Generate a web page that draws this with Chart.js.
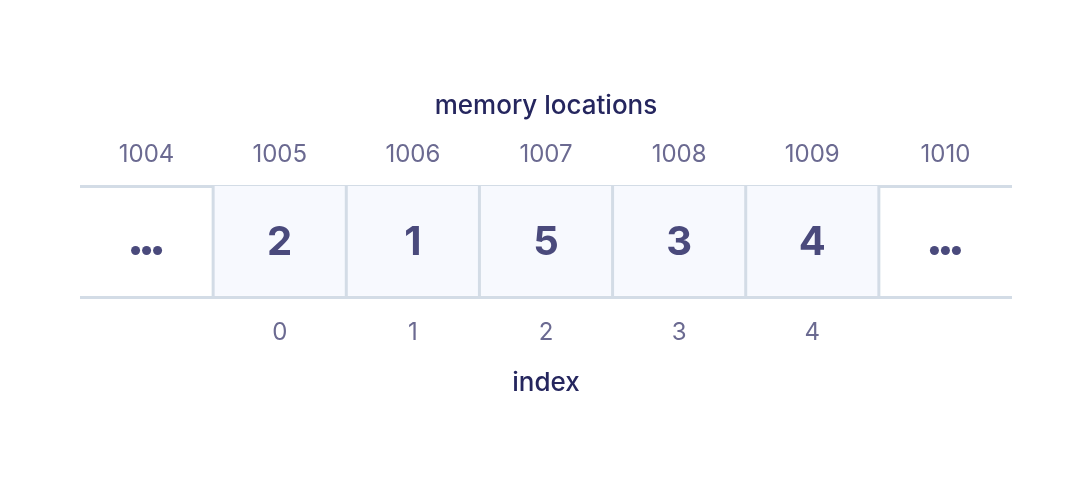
<!DOCTYPE html>
<html>
<head>
<meta charset="utf-8">
<script src="https://cdn.jsdelivr.net/npm/chart.js@4"></script>
<style>
  html, body { margin: 0; padding: 0; background: #ffffff; }
  #wrap { width: 1092px; height: 484px; }
</style>
</head>
<body>
<div id="wrap"><canvas id="arrayChart"></canvas></div>
<script>
const addresses = ['1004', '1005', '1006', '1007', '1008', '1009', '1010'];
const indexLabels = ['', '0', '1', '2', '3', '4', ''];
const cellValues = ['…', '2', '1', '5', '3', '4', '…'];
const filled = [null, [0, 1], [0, 1], [0, 1], [0, 1], [0, 1], null];

const lineColor = '#d3dce6';
const tickColor = '#6b6a91';
const titleColor = '#25265e';
const valueColor = '#4a4a7c';
const fontFamily = 'Inter, "Open Sans", sans-serif';

// cell separators + the numbers inside the cells
const cellText = {
    id: 'cellText',
    afterDatasetsDraw(chart) {
        const ctx = chart.ctx;
        const x = chart.scales.x;
        const y = chart.scales.y;
        const top = y.getPixelForValue(1);
        const bottom = y.getPixelForValue(0);
        const yMid = (top + bottom) / 2;
        ctx.save();
        ctx.strokeStyle = lineColor;
        ctx.lineWidth = 3;
        for (let i = 1; i < cellValues.length; i++) {
            const px = (x.getPixelForValue(i - 1) + x.getPixelForValue(i)) / 2;
            ctx.beginPath();
            ctx.moveTo(px, top);
            ctx.lineTo(px, bottom);
            ctx.stroke();
        }
        ctx.textAlign = 'center';
        ctx.textBaseline = 'middle';
        ctx.fillStyle = valueColor;
        cellValues.forEach((v, i) => {
            const px = x.getPixelForValue(i);
            if (v === '…') {
                for (let k = -1; k <= 1; k++) {
                    ctx.beginPath();
                    ctx.arc(px + k * 11, yMid + 9, 4.5, 0, Math.PI * 2);
                    ctx.fill();
                }
            } else {
                ctx.font = 'bold 40px ' + fontFamily;
                ctx.fillText(v, px, yMid + 1);
            }
        });
        ctx.restore();
    }
};

new Chart(document.getElementById('arrayChart'), {
    type: 'bar',
    data: {
        labels: indexLabels,
        datasets: [{
            data: filled,
            backgroundColor: '#f7f9fe',
            borderWidth: 0,
            barPercentage: 1,
            categoryPercentage: 1
        }]
    },
    options: {
        responsive: true,
        maintainAspectRatio: false,
        animation: false,
        layout: { padding: { top: 91, bottom: 85, left: 80, right: 80 } },
        plugins: { legend: { display: false }, tooltip: { enabled: false } },
        scales: {
            x: {
                position: 'bottom',
                grid: { display: false },
                border: { display: false },
                ticks: { color: tickColor, font: { size: 24, family: fontFamily }, padding: 13, maxRotation: 0 },
                title: { display: true, text: 'index', color: titleColor, font: { size: 26, family: fontFamily, weight: '500' }, padding: { top: 8, bottom: 0 } }
            },
            x2: {
                position: 'top',
                type: 'category',
                labels: addresses,
                grid: { display: false },
                border: { display: false },
                ticks: { color: tickColor, font: { size: 24, family: fontFamily }, padding: 9, maxRotation: 0 },
                title: { display: true, text: 'memory locations', color: titleColor, font: { size: 26, family: fontFamily, weight: '500' }, padding: { top: 0, bottom: 9 } }
            },
            y: {
                min: 0,
                max: 1,
                display: true,
                ticks: { display: false, stepSize: 1 },
                border: { display: false },
                grid: { color: lineColor, lineWidth: 3, drawTicks: false }
            }
        }
    },
    plugins: [cellText]
});
</script>
</body>
</html>
